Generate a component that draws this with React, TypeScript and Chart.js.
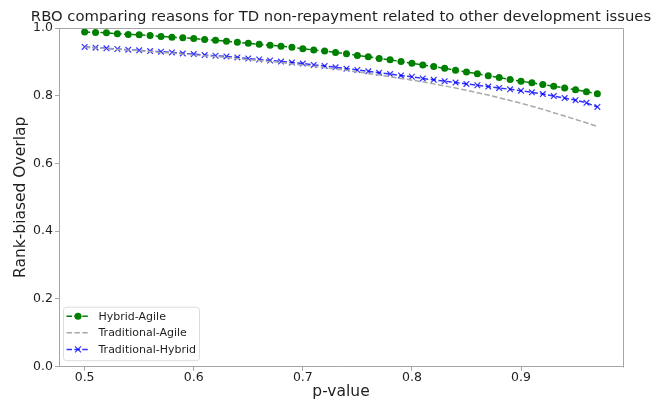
import React, { useEffect, useRef } from 'react';
import { Chart, registerables } from 'chart.js';

Chart.register(...registerables);

const titleText = 'RBO comparing reasons for TD non-repayment related to other development issues';
const xAxisLabel = 'p-value';
const yAxisLabel = 'Rank-biased Overlap';
const seriesLabels = ['Hybrid-Agile', 'Traditional-Agile', 'Traditional-Hybrid'];

const pValues = [
  0.50, 0.51, 0.52, 0.53, 0.54, 0.55, 0.56, 0.57, 0.58, 0.59,
  0.60, 0.61, 0.62, 0.63, 0.64, 0.65, 0.66, 0.67, 0.68, 0.69,
  0.70, 0.71, 0.72, 0.73, 0.74, 0.75, 0.76, 0.77, 0.78, 0.79,
  0.80, 0.81, 0.82, 0.83, 0.84, 0.85, 0.86, 0.87, 0.88, 0.89,
  0.90, 0.91, 0.92, 0.93, 0.94, 0.95, 0.96, 0.97,
];

const hybridAgile = [
  0.988, 0.987, 0.986, 0.983, 0.981, 0.980, 0.978, 0.975, 0.973, 0.971,
  0.969, 0.966, 0.964, 0.961, 0.958, 0.955, 0.952, 0.949, 0.946, 0.943,
  0.939, 0.935, 0.932, 0.928, 0.924, 0.919, 0.915, 0.910, 0.906, 0.901,
  0.896, 0.891, 0.886, 0.881, 0.875, 0.870, 0.865, 0.859, 0.854, 0.848,
  0.843, 0.838, 0.833, 0.828, 0.823, 0.818, 0.812, 0.806,
];

const traditionalAgile = [
  0.943, 0.941, 0.939, 0.937, 0.935, 0.933, 0.931, 0.928, 0.926, 0.923,
  0.921, 0.918, 0.916, 0.913, 0.910, 0.907, 0.904, 0.901, 0.898, 0.894,
  0.891, 0.887, 0.883, 0.879, 0.875, 0.870, 0.866, 0.861, 0.856, 0.851,
  0.846, 0.841, 0.835, 0.829, 0.823, 0.816, 0.809, 0.802, 0.794, 0.786,
  0.778, 0.769, 0.760, 0.750, 0.740, 0.730, 0.720, 0.709,
];

const traditionalHybrid = [
  0.944, 0.942, 0.940, 0.938, 0.936, 0.934, 0.932, 0.930, 0.928, 0.925,
  0.923, 0.920, 0.918, 0.916, 0.913, 0.910, 0.907, 0.904, 0.901, 0.898,
  0.895, 0.891, 0.888, 0.884, 0.880, 0.876, 0.872, 0.868, 0.864, 0.860,
  0.856, 0.851, 0.847, 0.843, 0.839, 0.835, 0.831, 0.827, 0.823, 0.819,
  0.815, 0.810, 0.805, 0.799, 0.793, 0.787, 0.779, 0.767,
];

const xTicks = [0.5, 0.6, 0.7, 0.8, 0.9];
const yTicks = [0.0, 0.2, 0.4, 0.6, 0.8, 1.0];

const FONT = "'DejaVu Sans', sans-serif";
const SPINE = '#a6a6a6';
const TEXT = '#1f1f1f';

const toPoints = (ys: number[]) => pValues.map((x, i) => ({ x, y: ys[i] }));

const titlePlugin = {
  id: 'mplTitle',
  afterDraw(chart: any) {
    const { ctx, chartArea } = chart;
    ctx.save();
    ctx.fillStyle = TEXT;
    ctx.font = `14.8px ${FONT}`;
    ctx.textAlign = 'center';
    ctx.textBaseline = 'middle';
    ctx.fillText(titleText, (chartArea.left + chartArea.right) / 2, chartArea.top - 10.5);
    ctx.restore();
  },
};

const framePlugin = {
  id: 'mplFrame',
  afterDraw(chart: any) {
    const { ctx, chartArea } = chart;
    const { left, right, top, bottom } = chartArea;
    ctx.save();
    ctx.strokeStyle = SPINE;
    ctx.lineWidth = 1;
    ctx.beginPath();
    ctx.moveTo(Math.round(left) + 0.5, Math.round(top) + 0.5);
    ctx.lineTo(Math.round(right) + 0.5, Math.round(top) + 0.5);
    ctx.lineTo(Math.round(right) + 0.5, Math.round(bottom) + 0.5);
    ctx.stroke();
    ctx.restore();
  },
};

const legendPlugin = {
  id: 'mplLegend',
  afterDatasetsDraw(chart: any) {
    const { ctx, chartArea } = chart;
    const bx = chartArea.left + 4.5;
    const by = chartArea.bottom - 59.5;
    const bw = 136;
    const bh = 53.5;
    ctx.save();
    ctx.beginPath();
    const r = 3;
    ctx.moveTo(bx + r, by);
    ctx.lineTo(bx + bw - r, by);
    ctx.arcTo(bx + bw, by, bx + bw, by + r, r);
    ctx.lineTo(bx + bw, by + bh - r);
    ctx.arcTo(bx + bw, by + bh, bx + bw - r, by + bh, r);
    ctx.lineTo(bx + r, by + bh);
    ctx.arcTo(bx, by + bh, bx, by + bh - r, r);
    ctx.lineTo(bx, by + r);
    ctx.arcTo(bx, by, bx + r, by, r);
    ctx.closePath();
    ctx.fillStyle = 'rgba(255,255,255,0.85)';
    ctx.fill();
    ctx.strokeStyle = '#dcdcdc';
    ctx.lineWidth = 1;
    ctx.stroke();

    chart.data.datasets.forEach((ds: any, i: number) => {
      const y = by + 9 + i * 16.6;
      const x0 = bx + 3;
      const x1 = bx + 26;
      ctx.beginPath();
      ctx.setLineDash(ds.borderDash || []);
      ctx.strokeStyle = ds.borderColor;
      ctx.lineWidth = ds.borderWidth;
      ctx.moveTo(x0, y);
      ctx.lineTo(x1, y);
      ctx.stroke();
      ctx.setLineDash([]);
      const mx = (x0 + x1) / 2;
      if (ds.pointStyle === 'circle' && ds.pointRadius > 0) {
        ctx.beginPath();
        ctx.arc(mx, y, ds.pointRadius, 0, Math.PI * 2);
        ctx.fillStyle = ds.pointBackgroundColor;
        ctx.fill();
      } else if (ds.pointStyle === 'crossRot' && ds.pointRadius > 0) {
        const d = ds.pointRadius * 0.75;
        ctx.beginPath();
        ctx.moveTo(mx - d, y - d);
        ctx.lineTo(mx + d, y + d);
        ctx.moveTo(mx - d, y + d);
        ctx.lineTo(mx + d, y - d);
        ctx.strokeStyle = ds.pointBorderColor;
        ctx.lineWidth = ds.pointBorderWidth;
        ctx.stroke();
      }
      ctx.fillStyle = TEXT;
      ctx.font = `11px ${FONT}`;
      ctx.textAlign = 'left';
      ctx.textBaseline = 'middle';
      ctx.fillText(ds.label, bx + 35, y + 0.5);
    });
    ctx.restore();
  },
};

export default function App() {
  const canvasRef = useRef<HTMLCanvasElement | null>(null);

  useEffect(() => {
    const canvas = canvasRef.current;
    if (!canvas) return;
    const chart = new Chart(canvas, {
      type: 'line',
      data: {
        datasets: [
          {
            label: seriesLabels[0],
            data: toPoints(hybridAgile),
            borderColor: '#008000',
            backgroundColor: '#008000',
            borderWidth: 1.5,
            borderDash: [5.5, 2.4],
            pointStyle: 'circle',
            pointRadius: 3.5,
            pointBackgroundColor: '#008000',
            pointBorderColor: '#008000',
            pointBorderWidth: 0,
            fill: false,
            tension: 0,
          },
          {
            label: seriesLabels[1],
            data: toPoints(traditionalAgile),
            borderColor: '#a9a9a9',
            backgroundColor: '#a9a9a9',
            borderWidth: 1.5,
            borderDash: [5.5, 2.4],
            pointRadius: 0,
            pointStyle: 'none' as any,
            fill: false,
            tension: 0,
          },
          {
            label: seriesLabels[2],
            data: toPoints(traditionalHybrid),
            borderColor: 'rgba(0,0,255,0.8)',
            backgroundColor: 'rgba(0,0,255,0.8)',
            borderWidth: 1.5,
            borderDash: [5.5, 2.4],
            pointStyle: 'crossRot',
            pointRadius: 4,
            pointBackgroundColor: 'rgba(0,0,255,0.8)',
            pointBorderColor: 'rgba(0,0,255,0.8)',
            pointBorderWidth: 1.2,
            fill: false,
            tension: 0,
          },
        ],
      },
      options: {
        responsive: false,
        animation: false,
        devicePixelRatio: 1,
        events: [],
        layout: { padding: { left: 0, right: 44, top: 28, bottom: 0 } },
        plugins: {
          legend: { display: false },
          tooltip: { enabled: false },
          title: { display: false },
        },
        scales: {
          x: {
            type: 'linear',
            min: 0.4765,
            max: 0.9935,
            afterBuildTicks: (scale: any) => {
              scale.ticks = xTicks.map((v) => ({ value: v }));
            },
            afterFit: (scale: any) => {
              scale.height = 36.3;
            },
            ticks: {
              color: TEXT,
              font: { family: FONT, size: 12.5 },
              padding: 0,
              maxRotation: 0,
              callback: (v: any) => Number(v).toFixed(1),
            },
            grid: {
              display: true,
              drawOnChartArea: false,
              drawTicks: true,
              tickLength: 4,
              color: SPINE,
            },
            border: { display: true, color: SPINE, width: 1 },
            title: {
              display: true,
              text: xAxisLabel,
              color: TEXT,
              font: { family: FONT, size: 15.5, lineHeight: 1.2 },
              padding: { top: 0, bottom: 1.5 },
            },
          },
          y: {
            type: 'linear',
            min: 0,
            max: 1,
            afterBuildTicks: (scale: any) => {
              scale.ticks = yTicks.map((v) => ({ value: v }));
            },
            afterFit: (scale: any) => {
              scale.width = 59;
            },
            ticks: {
              color: TEXT,
              font: { family: FONT, size: 12.5 },
              padding: 2,
              callback: (v: any) => Number(v).toFixed(1),
            },
            grid: {
              display: true,
              drawOnChartArea: false,
              drawTicks: true,
              tickLength: 4,
              color: SPINE,
            },
            border: { display: true, color: SPINE, width: 1 },
            title: {
              display: true,
              text: yAxisLabel,
              color: TEXT,
              font: { family: FONT, size: 15.5, lineHeight: 1.2 },
              padding: { top: 11.5, bottom: 0 },
            },
          },
        },
      },
      plugins: [titlePlugin, framePlugin, legendPlugin],
    });
    return () => {
      chart.destroy();
    };
  }, []);

  return (
    <div style={{ position: 'absolute', left: 0, top: 0, width: 667, height: 403, background: '#ffffff' }}>
      <canvas ref={canvasRef} width={667} height={403} style={{ width: 667, height: 403, display: 'block' }} />
    </div>
  );
}
